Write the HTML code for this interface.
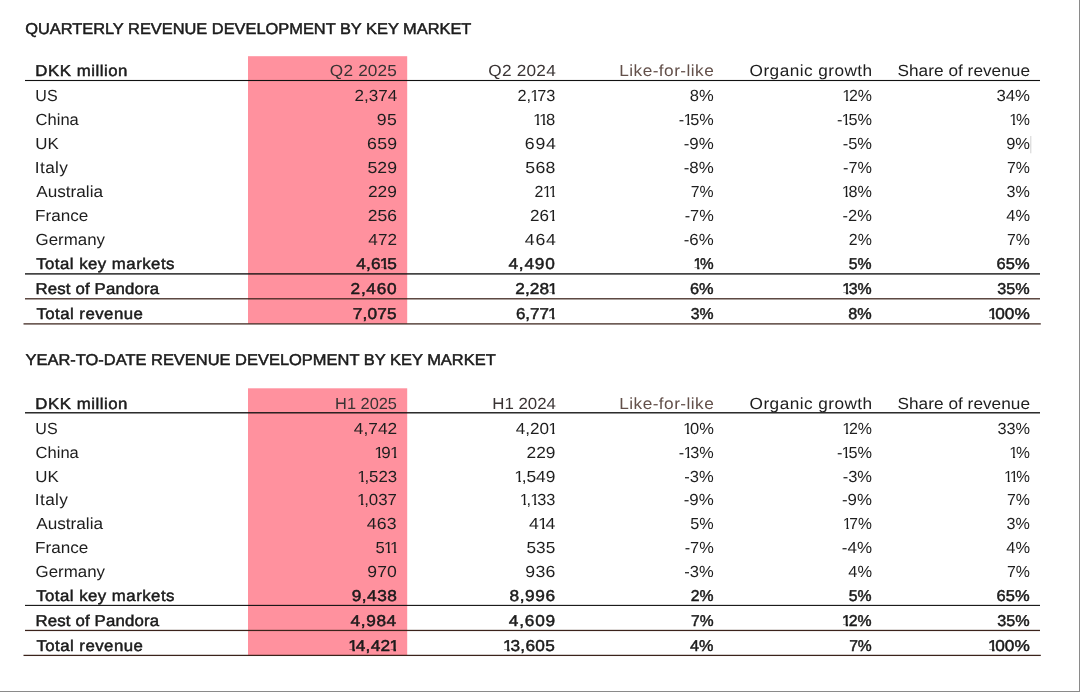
<!DOCTYPE html>
<html lang="en">
<head>
<meta charset="utf-8">
<title>Revenue development by key market</title>
<style>
html,body{margin:0;padding:0;background:#fff;}
body{width:1080px;height:692px;position:relative;overflow:hidden;font-family:"Liberation Sans", sans-serif;font-size:16.1px;color:#1e1e1e;text-rendering:geometricPrecision;}
.frame{position:absolute;left:0;top:0;width:1079px;height:691px;border-right:1px solid #8a8a8a;border-bottom:1px solid #8a8a8a;}
.shapes{position:absolute;left:0;top:0;}
section,.row{margin:0;padding:0;}
h2{margin:0;padding:0;}
.t{position:absolute;white-space:nowrap;line-height:20px;height:20px;}
.b{font-weight:400;-webkit-text-stroke:0.45px #111;}
.t i{font-style:normal;display:inline-block;margin:0 -2.2px 0 -0.8px;clip-path:polygon(0 0,6px 0,6px 100%,3.7px 100%,3.7px 62%,0 62%);}
</style>
</head>
<body>
<div class="frame"></div>
<svg class="shapes" width="1080" height="692" viewBox="0 0 1080 692">
<rect x="248" y="56.20" width="159.2" height="267.5" fill="#ff919e"/>
<rect x="248" y="388.30" width="159.2" height="266.9" fill="#ff919e"/>
<rect x="25" y="79.95" width="1015" height="1.1" fill="#111"/>
<rect x="25" y="273.22" width="1015" height="1.35" fill="#111"/>
<rect x="25" y="298.18" width="1015" height="1.25" fill="#3b231b"/>
<rect x="23.5" y="323.27" width="1017.3" height="1.25" fill="#3b231b"/>
<rect x="25" y="412.12" width="1015" height="1.35" fill="#111"/>
<rect x="25" y="604.85" width="1015" height="1.1" fill="#111"/>
<rect x="25" y="629.83" width="1015" height="1.25" fill="#3b231b"/>
<rect x="23.5" y="654.77" width="1017.3" height="1.25" fill="#3b231b"/>
<rect x="1030.3" y="136" width="1" height="17.3" fill="#d2d2d2"/>
</svg>
<section>
<h2 class="t b" style="top:20.00px;left:26px;transform-origin:0 50%;letter-spacing:0.000px;transform:translateX(-0.85px) scaleX(1.0446);font-size:15.7px;">QUARTERLY REVENUE DEVELOPMENT BY KEY MARKET</h2>
<div class="row head">
<span class="t b" style="top:62.00px;left:36px;transform-origin:0 50%;letter-spacing:0.502px;transform:translateX(-0.68px) scaleX(1.0700);font-size:15.7px;">DKK million</span>
<span class="t" style="top:61.00px;right:684px;transform-origin:100% 50%;letter-spacing:0.155px;transform:translateX(1.27px) scaleX(1.0700);color:#3a3434;">Q2 2025</span>
<span class="t" style="top:61.00px;right:526px;transform-origin:100% 50%;letter-spacing:0.213px;transform:translateX(1.70px) scaleX(1.0700);color:#3a3434;">Q2 2024</span>
<span class="t" style="top:61.00px;right:367px;transform-origin:100% 50%;letter-spacing:0.426px;transform:translateX(1.46px) scaleX(1.0700);color:#63504a;">Like-for-like</span>
<span class="t" style="top:61.00px;right:209px;transform-origin:100% 50%;letter-spacing:0.414px;transform:translateX(1.65px) scaleX(1.0700);">Organic growth</span>
<span class="t" style="top:61.00px;right:51px;transform-origin:100% 50%;letter-spacing:0.026px;transform:translateX(1.16px) scaleX(1.0700);">Share of revenue</span>
</div>
<div class="row">
<span class="t" style="top:86.00px;left:36px;transform-origin:0 50%;letter-spacing:0.000px;transform:translateX(-0.71px) scaleX(0.9971);">US</span>
<span class="t" style="top:86.00px;right:684px;transform-origin:100% 50%;letter-spacing:0.000px;transform:translateX(0.86px) scaleX(1.0609);">2,374</span>
<span class="t" style="top:86.00px;right:526px;transform-origin:100% 50%;letter-spacing:0.000px;transform:translateX(1.05px) scaleX(1.0144);">2,<i>1</i>73</span>
<span class="t" style="top:86.00px;right:367px;transform-origin:100% 50%;letter-spacing:-0.000px;transform:translateX(0.48px) scaleX(1.0285);">8%</span>
<span class="t" style="top:86.00px;right:209px;transform-origin:100% 50%;letter-spacing:0.000px;transform:translateX(0.72px) scaleX(0.9898);"><i>1</i>2%</span>
<span class="t" style="top:86.00px;right:51px;transform-origin:100% 50%;letter-spacing:0.000px;transform:translateX(0.82px) scaleX(1.0432);">34%</span>
</div>
<div class="row">
<span class="t" style="top:110.00px;left:36px;transform-origin:0 50%;letter-spacing:0.000px;transform:translateX(-0.42px) scaleX(1.0277);">China</span>
<span class="t" style="top:110.00px;right:684px;transform-origin:100% 50%;letter-spacing:0.229px;transform:translateX(0.71px) scaleX(1.1000);">95</span>
<span class="t" style="top:110.00px;right:526px;transform-origin:100% 50%;letter-spacing:0.000px;transform:translateX(1.47px) scaleX(1.0342);"><i>1</i><i>1</i>8</span>
<span class="t" style="top:110.00px;right:367px;transform-origin:100% 50%;letter-spacing:0.000px;transform:translateX(1.15px) scaleX(1.0093);">-<i>1</i>5%</span>
<span class="t" style="top:110.00px;right:209px;transform-origin:100% 50%;letter-spacing:0.000px;transform:translateX(1.38px) scaleX(1.0124);">-<i>1</i>5%</span>
<span class="t" style="top:110.00px;right:51px;transform-origin:100% 50%;letter-spacing:0.000px;transform:translateX(0.51px) scaleX(0.9715);"><i>1</i>%</span>
</div>
<div class="row">
<span class="t" style="top:134.00px;left:36px;transform-origin:0 50%;letter-spacing:0.000px;transform:translateX(-0.84px) scaleX(1.0516);">UK</span>
<span class="t" style="top:134.00px;right:684px;transform-origin:100% 50%;letter-spacing:0.161px;transform:translateX(0.84px) scaleX(1.1000);">659</span>
<span class="t" style="top:134.00px;right:526px;transform-origin:100% 50%;letter-spacing:0.690px;transform:translateX(2.75px) scaleX(1.1000);">694</span>
<span class="t" style="top:134.00px;right:367px;transform-origin:100% 50%;letter-spacing:0.000px;transform:translateX(1.06px) scaleX(1.0499);">-9%</span>
<span class="t" style="top:134.00px;right:209px;transform-origin:100% 50%;letter-spacing:-0.000px;transform:translateX(1.40px) scaleX(1.0268);">-5%</span>
<span class="t" style="top:134.00px;right:51px;transform-origin:100% 50%;letter-spacing:0.000px;transform:translateX(0.76px) scaleX(1.0251);">9%</span>
</div>
<div class="row">
<span class="t" style="top:158.00px;left:36px;transform-origin:0 50%;letter-spacing:0.343px;transform:translateX(-1.16px) scaleX(1.0700);">Italy</span>
<span class="t" style="top:158.00px;right:684px;transform-origin:100% 50%;letter-spacing:0.000px;transform:translateX(1.11px) scaleX(1.0972);">529</span>
<span class="t" style="top:158.00px;right:526px;transform-origin:100% 50%;letter-spacing:0.273px;transform:translateX(2.02px) scaleX(1.1000);">568</span>
<span class="t" style="top:158.00px;right:367px;transform-origin:100% 50%;letter-spacing:0.000px;transform:translateX(1.06px) scaleX(1.0499);">-8%</span>
<span class="t" style="top:158.00px;right:209px;transform-origin:100% 50%;letter-spacing:0.000px;transform:translateX(1.23px) scaleX(1.0086);">-7%</span>
<span class="t" style="top:158.00px;right:51px;transform-origin:100% 50%;letter-spacing:0.000px;transform:translateX(0.65px) scaleX(0.9881);">7%</span>
</div>
<div class="row">
<span class="t" style="top:182.00px;left:36px;transform-origin:0 50%;letter-spacing:0.000px;transform:translateX(0.22px) scaleX(1.0670);">Australia</span>
<span class="t" style="top:182.00px;right:684px;transform-origin:100% 50%;letter-spacing:0.000px;transform:translateX(1.02px) scaleX(1.0766);">229</span>
<span class="t" style="top:182.00px;right:526px;transform-origin:100% 50%;letter-spacing:0.000px;transform:translateX(1.39px) scaleX(0.9911);">2<i>1</i><i>1</i></span>
<span class="t" style="top:182.00px;right:367px;transform-origin:100% 50%;letter-spacing:0.000px;transform:translateX(0.39px) scaleX(0.9833);">7%</span>
<span class="t" style="top:182.00px;right:209px;transform-origin:100% 50%;letter-spacing:0.000px;transform:translateX(0.77px) scaleX(1.0069);"><i>1</i>8%</span>
<span class="t" style="top:182.00px;right:51px;transform-origin:100% 50%;letter-spacing:-0.000px;transform:translateX(0.68px) scaleX(1.0034);">3%</span>
</div>
<div class="row">
<span class="t" style="top:206.00px;left:36px;transform-origin:0 50%;letter-spacing:0.000px;transform:translateX(-0.93px) scaleX(1.0639);">France</span>
<span class="t" style="top:206.00px;right:684px;transform-origin:100% 50%;letter-spacing:0.000px;transform:translateX(0.99px) scaleX(1.0826);">256</span>
<span class="t" style="top:206.00px;right:526px;transform-origin:100% 50%;letter-spacing:0.000px;transform:translateX(1.48px) scaleX(1.0574);">26<i>1</i></span>
<span class="t" style="top:206.00px;right:367px;transform-origin:100% 50%;letter-spacing:-0.000px;transform:translateX(1.17px) scaleX(1.0185);">-7%</span>
<span class="t" style="top:206.00px;right:209px;transform-origin:100% 50%;letter-spacing:0.000px;transform:translateX(1.16px) scaleX(1.0233);">-2%</span>
<span class="t" style="top:206.00px;right:51px;transform-origin:100% 50%;letter-spacing:0.000px;transform:translateX(0.80px) scaleX(1.0197);">4%</span>
</div>
<div class="row">
<span class="t" style="top:230.00px;left:36px;transform-origin:0 50%;letter-spacing:0.000px;transform:translateX(-0.40px) scaleX(1.0484);">Germany</span>
<span class="t" style="top:230.00px;right:684px;transform-origin:100% 50%;letter-spacing:0.000px;transform:translateX(1.11px) scaleX(1.0658);">472</span>
<span class="t" style="top:230.00px;right:526px;transform-origin:100% 50%;letter-spacing:0.612px;transform:translateX(2.74px) scaleX(1.1000);">464</span>
<span class="t" style="top:230.00px;right:367px;transform-origin:100% 50%;letter-spacing:-0.000px;transform:translateX(1.07px) scaleX(1.0458);">-6%</span>
<span class="t" style="top:230.00px;right:209px;transform-origin:100% 50%;letter-spacing:0.000px;transform:translateX(0.57px) scaleX(0.9893);">2%</span>
<span class="t" style="top:230.00px;right:51px;transform-origin:100% 50%;letter-spacing:0.000px;transform:translateX(0.65px) scaleX(0.9881);">7%</span>
</div>
<div class="row">
<span class="t b" style="top:255.00px;left:36px;transform-origin:0 50%;letter-spacing:0.446px;transform:translateX(0.19px) scaleX(1.0700);font-size:15.7px;">Total key markets</span>
<span class="t b" style="top:255.00px;right:684px;transform-origin:100% 50%;letter-spacing:0.142px;transform:translateX(0.94px) scaleX(1.1000);font-size:15.7px;">4,6<i>1</i>5</span>
<span class="t b" style="top:255.00px;right:526px;transform-origin:100% 50%;letter-spacing:0.740px;transform:translateX(1.73px) scaleX(1.1000);font-size:15.7px;">4,490</span>
<span class="t b" style="top:255.00px;right:367px;transform-origin:100% 50%;letter-spacing:0.000px;transform:translateX(0.88px) scaleX(0.9759);font-size:15.7px;"><i>1</i>%</span>
<span class="t b" style="top:255.00px;right:209px;transform-origin:100% 50%;letter-spacing:0.000px;transform:translateX(0.95px) scaleX(1.0064);font-size:15.7px;">5%</span>
<span class="t b" style="top:255.00px;right:51px;transform-origin:100% 50%;letter-spacing:-0.000px;transform:translateX(0.21px) scaleX(1.0511);font-size:15.7px;">65%</span>
</div>
<div class="row">
<span class="t b" style="top:280.00px;left:36px;transform-origin:0 50%;letter-spacing:0.152px;transform:translateX(-0.57px) scaleX(1.0700);font-size:15.7px;">Rest of Pandora</span>
<span class="t b" style="top:280.00px;right:684px;transform-origin:100% 50%;letter-spacing:0.620px;transform:translateX(0.85px) scaleX(1.1000);font-size:15.7px;">2,460</span>
<span class="t b" style="top:280.00px;right:526px;transform-origin:100% 50%;letter-spacing:0.041px;transform:translateX(0.90px) scaleX(1.1000);font-size:15.7px;">2,28<i>1</i></span>
<span class="t b" style="top:280.00px;right:367px;transform-origin:100% 50%;letter-spacing:0.000px;transform:translateX(0.95px) scaleX(1.0416);font-size:15.7px;">6%</span>
<span class="t b" style="top:280.00px;right:209px;transform-origin:100% 50%;letter-spacing:-0.000px;transform:translateX(0.31px) scaleX(1.0124);font-size:15.7px;"><i>1</i>3%</span>
<span class="t b" style="top:280.00px;right:51px;transform-origin:100% 50%;letter-spacing:0.000px;transform:translateX(0.38px) scaleX(1.0326);font-size:15.7px;">35%</span>
</div>
<div class="row">
<span class="t b" style="top:305.00px;left:36px;transform-origin:0 50%;letter-spacing:0.440px;transform:translateX(0.42px) scaleX(1.0700);font-size:15.7px;">Total revenue</span>
<span class="t b" style="top:305.00px;right:684px;transform-origin:100% 50%;letter-spacing:0.152px;transform:translateX(0.82px) scaleX(1.1000);font-size:15.7px;">7,075</span>
<span class="t b" style="top:305.00px;right:526px;transform-origin:100% 50%;letter-spacing:0.000px;transform:translateX(0.85px) scaleX(1.0811);font-size:15.7px;">6,77<i>1</i></span>
<span class="t b" style="top:305.00px;right:367px;transform-origin:100% 50%;letter-spacing:0.000px;transform:translateX(0.97px) scaleX(1.0069);font-size:15.7px;">3%</span>
<span class="t b" style="top:305.00px;right:209px;transform-origin:100% 50%;letter-spacing:0.000px;transform:translateX(1.01px) scaleX(1.0330);font-size:15.7px;">8%</span>
<span class="t b" style="top:305.00px;right:51px;transform-origin:100% 50%;letter-spacing:0.028px;transform:translateX(0.52px) scaleX(1.1000);font-size:15.7px;"><i>1</i>00%</span>
</div>
</section>
<section>
<h2 class="t b" style="top:351.00px;left:26px;transform-origin:0 50%;letter-spacing:-0.000px;transform:translateX(-0.52px) scaleX(1.0487);font-size:15.7px;">YEAR-TO-DATE REVENUE DEVELOPMENT BY KEY MARKET</h2>
<div class="row head">
<span class="t b" style="top:395.00px;left:36px;transform-origin:0 50%;letter-spacing:0.502px;transform:translateX(-0.68px) scaleX(1.0700);font-size:15.7px;">DKK million</span>
<span class="t" style="top:394.00px;right:684px;transform-origin:100% 50%;letter-spacing:-0.000px;transform:translateX(1.08px) scaleX(1.0163);color:#3a3434;">H1 2025</span>
<span class="t" style="top:394.00px;right:526px;transform-origin:100% 50%;letter-spacing:-0.000px;transform:translateX(2.03px) scaleX(1.0457);color:#3a3434;">H1 2024</span>
<span class="t" style="top:394.00px;right:367px;transform-origin:100% 50%;letter-spacing:0.426px;transform:translateX(1.46px) scaleX(1.0700);color:#63504a;">Like-for-like</span>
<span class="t" style="top:394.00px;right:209px;transform-origin:100% 50%;letter-spacing:0.414px;transform:translateX(1.65px) scaleX(1.0700);">Organic growth</span>
<span class="t" style="top:394.00px;right:51px;transform-origin:100% 50%;letter-spacing:0.026px;transform:translateX(1.16px) scaleX(1.0700);">Share of revenue</span>
</div>
<div class="row">
<span class="t" style="top:419.00px;left:36px;transform-origin:0 50%;letter-spacing:0.000px;transform:translateX(-0.71px) scaleX(0.9971);">US</span>
<span class="t" style="top:419.00px;right:684px;transform-origin:100% 50%;letter-spacing:0.000px;transform:translateX(0.92px) scaleX(1.0756);">4,742</span>
<span class="t" style="top:419.00px;right:526px;transform-origin:100% 50%;letter-spacing:0.000px;transform:translateX(1.05px) scaleX(1.0629);">4,20<i>1</i></span>
<span class="t" style="top:419.00px;right:367px;transform-origin:100% 50%;letter-spacing:0.000px;transform:translateX(0.61px) scaleX(1.0241);"><i>1</i>0%</span>
<span class="t" style="top:419.00px;right:209px;transform-origin:100% 50%;letter-spacing:0.000px;transform:translateX(0.72px) scaleX(0.9898);"><i>1</i>2%</span>
<span class="t" style="top:419.00px;right:51px;transform-origin:100% 50%;letter-spacing:0.000px;transform:translateX(0.86px) scaleX(1.0149);">33%</span>
</div>
<div class="row">
<span class="t" style="top:443.00px;left:36px;transform-origin:0 50%;letter-spacing:0.000px;transform:translateX(-0.42px) scaleX(1.0277);">China</span>
<span class="t" style="top:443.00px;right:684px;transform-origin:100% 50%;letter-spacing:0.000px;transform:translateX(1.22px) scaleX(1.0548);"><i>1</i>9<i>1</i></span>
<span class="t" style="top:443.00px;right:526px;transform-origin:100% 50%;letter-spacing:0.000px;transform:translateX(1.61px) scaleX(1.0776);">229</span>
<span class="t" style="top:443.00px;right:367px;transform-origin:100% 50%;letter-spacing:0.000px;transform:translateX(1.15px) scaleX(1.0093);">-<i>1</i>3%</span>
<span class="t" style="top:443.00px;right:209px;transform-origin:100% 50%;letter-spacing:0.000px;transform:translateX(1.38px) scaleX(1.0124);">-<i>1</i>5%</span>
<span class="t" style="top:443.00px;right:51px;transform-origin:100% 50%;letter-spacing:0.000px;transform:translateX(0.51px) scaleX(0.9715);"><i>1</i>%</span>
</div>
<div class="row">
<span class="t" style="top:467.00px;left:36px;transform-origin:0 50%;letter-spacing:0.000px;transform:translateX(-0.84px) scaleX(1.0516);">UK</span>
<span class="t" style="top:467.00px;right:684px;transform-origin:100% 50%;letter-spacing:0.000px;transform:translateX(0.81px) scaleX(1.0435);"><i>1</i>,523</span>
<span class="t" style="top:467.00px;right:526px;transform-origin:100% 50%;letter-spacing:0.000px;transform:translateX(1.13px) scaleX(1.0781);"><i>1</i>,549</span>
<span class="t" style="top:467.00px;right:367px;transform-origin:100% 50%;letter-spacing:0.000px;transform:translateX(1.09px) scaleX(1.0287);">-3%</span>
<span class="t" style="top:467.00px;right:209px;transform-origin:100% 50%;letter-spacing:-0.000px;transform:translateX(1.40px) scaleX(1.0268);">-3%</span>
<span class="t" style="top:467.00px;right:51px;transform-origin:100% 50%;letter-spacing:0.000px;transform:translateX(0.57px) scaleX(0.9521);"><i>1</i><i>1</i>%</span>
</div>
<div class="row">
<span class="t" style="top:490.00px;left:36px;transform-origin:0 50%;letter-spacing:0.343px;transform:translateX(-1.16px) scaleX(1.0700);">Italy</span>
<span class="t" style="top:490.00px;right:684px;transform-origin:100% 50%;letter-spacing:0.000px;transform:translateX(0.66px) scaleX(1.0466);"><i>1</i>,037</span>
<span class="t" style="top:490.00px;right:526px;transform-origin:100% 50%;letter-spacing:0.000px;transform:translateX(1.08px) scaleX(1.0162);"><i>1</i>,<i>1</i>33</span>
<span class="t" style="top:490.00px;right:367px;transform-origin:100% 50%;letter-spacing:0.000px;transform:translateX(1.06px) scaleX(1.0499);">-9%</span>
<span class="t" style="top:490.00px;right:209px;transform-origin:100% 50%;letter-spacing:0.000px;transform:translateX(1.22px) scaleX(1.0455);">-9%</span>
<span class="t" style="top:490.00px;right:51px;transform-origin:100% 50%;letter-spacing:0.000px;transform:translateX(0.65px) scaleX(0.9881);">7%</span>
</div>
<div class="row">
<span class="t" style="top:514.00px;left:36px;transform-origin:0 50%;letter-spacing:0.000px;transform:translateX(0.22px) scaleX(1.0670);">Australia</span>
<span class="t" style="top:514.00px;right:684px;transform-origin:100% 50%;letter-spacing:0.221px;transform:translateX(1.42px) scaleX(1.1000);">463</span>
<span class="t" style="top:514.00px;right:526px;transform-origin:100% 50%;letter-spacing:0.091px;transform:translateX(1.36px) scaleX(1.1000);">4<i>1</i>4</span>
<span class="t" style="top:514.00px;right:367px;transform-origin:100% 50%;letter-spacing:0.000px;transform:translateX(0.44px) scaleX(1.0072);">5%</span>
<span class="t" style="top:514.00px;right:209px;transform-origin:100% 50%;letter-spacing:0.000px;transform:translateX(0.71px) scaleX(0.9706);"><i>1</i>7%</span>
<span class="t" style="top:514.00px;right:51px;transform-origin:100% 50%;letter-spacing:-0.000px;transform:translateX(0.68px) scaleX(1.0034);">3%</span>
</div>
<div class="row">
<span class="t" style="top:538.00px;left:36px;transform-origin:0 50%;letter-spacing:0.000px;transform:translateX(-0.93px) scaleX(1.0639);">France</span>
<span class="t" style="top:538.00px;right:684px;transform-origin:100% 50%;letter-spacing:0.000px;transform:translateX(1.17px) scaleX(1.0365);">5<i>1</i><i>1</i></span>
<span class="t" style="top:538.00px;right:526px;transform-origin:100% 50%;letter-spacing:-0.000px;transform:translateX(1.34px) scaleX(1.0686);">535</span>
<span class="t" style="top:538.00px;right:367px;transform-origin:100% 50%;letter-spacing:-0.000px;transform:translateX(1.17px) scaleX(1.0185);">-7%</span>
<span class="t" style="top:538.00px;right:209px;transform-origin:100% 50%;letter-spacing:0.000px;transform:translateX(1.34px) scaleX(1.0539);">-4%</span>
<span class="t" style="top:538.00px;right:51px;transform-origin:100% 50%;letter-spacing:0.000px;transform:translateX(0.80px) scaleX(1.0197);">4%</span>
</div>
<div class="row">
<span class="t" style="top:562.00px;left:36px;transform-origin:0 50%;letter-spacing:0.000px;transform:translateX(-0.40px) scaleX(1.0484);">Germany</span>
<span class="t" style="top:562.00px;right:684px;transform-origin:100% 50%;letter-spacing:0.000px;transform:translateX(0.84px) scaleX(1.0925);">970</span>
<span class="t" style="top:562.00px;right:526px;transform-origin:100% 50%;letter-spacing:0.279px;transform:translateX(2.07px) scaleX(1.1000);">936</span>
<span class="t" style="top:562.00px;right:367px;transform-origin:100% 50%;letter-spacing:0.000px;transform:translateX(1.09px) scaleX(1.0287);">-3%</span>
<span class="t" style="top:562.00px;right:209px;transform-origin:100% 50%;letter-spacing:0.000px;transform:translateX(0.80px) scaleX(1.0197);">4%</span>
<span class="t" style="top:562.00px;right:51px;transform-origin:100% 50%;letter-spacing:0.000px;transform:translateX(0.65px) scaleX(0.9881);">7%</span>
</div>
<div class="row">
<span class="t b" style="top:587.00px;left:36px;transform-origin:0 50%;letter-spacing:0.446px;transform:translateX(0.19px) scaleX(1.0700);font-size:15.7px;">Total key markets</span>
<span class="t b" style="top:587.00px;right:684px;transform-origin:100% 50%;letter-spacing:0.417px;transform:translateX(0.91px) scaleX(1.1000);font-size:15.7px;">9,438</span>
<span class="t b" style="top:587.00px;right:526px;transform-origin:100% 50%;letter-spacing:0.551px;transform:translateX(1.64px) scaleX(1.1000);font-size:15.7px;">8,996</span>
<span class="t b" style="top:587.00px;right:367px;transform-origin:100% 50%;letter-spacing:0.000px;transform:translateX(0.97px) scaleX(1.0054);font-size:15.7px;">2%</span>
<span class="t b" style="top:587.00px;right:209px;transform-origin:100% 50%;letter-spacing:0.000px;transform:translateX(0.95px) scaleX(1.0064);font-size:15.7px;">5%</span>
<span class="t b" style="top:587.00px;right:51px;transform-origin:100% 50%;letter-spacing:-0.000px;transform:translateX(0.21px) scaleX(1.0511);font-size:15.7px;">65%</span>
</div>
<div class="row">
<span class="t b" style="top:612.00px;left:36px;transform-origin:0 50%;letter-spacing:0.152px;transform:translateX(-0.57px) scaleX(1.0700);font-size:15.7px;">Rest of Pandora</span>
<span class="t b" style="top:612.00px;right:684px;transform-origin:100% 50%;letter-spacing:0.556px;transform:translateX(0.78px) scaleX(1.1000);font-size:15.7px;">4,984</span>
<span class="t b" style="top:612.00px;right:526px;transform-origin:100% 50%;letter-spacing:0.740px;transform:translateX(2.06px) scaleX(1.1000);font-size:15.7px;">4,609</span>
<span class="t b" style="top:612.00px;right:367px;transform-origin:100% 50%;letter-spacing:0.000px;transform:translateX(0.83px) scaleX(0.9929);font-size:15.7px;">7%</span>
<span class="t b" style="top:612.00px;right:209px;transform-origin:100% 50%;letter-spacing:0.000px;transform:translateX(0.05px) scaleX(1.0077);font-size:15.7px;"><i>1</i>2%</span>
<span class="t b" style="top:612.00px;right:51px;transform-origin:100% 50%;letter-spacing:0.000px;transform:translateX(0.38px) scaleX(1.0326);font-size:15.7px;">35%</span>
</div>
<div class="row">
<span class="t b" style="top:637.00px;left:36px;transform-origin:0 50%;letter-spacing:0.440px;transform:translateX(0.42px) scaleX(1.0700);font-size:15.7px;">Total revenue</span>
<span class="t b" style="top:637.00px;right:684px;transform-origin:100% 50%;letter-spacing:0.206px;transform:translateX(0.56px) scaleX(1.1000);font-size:15.7px;"><i>1</i>4,42<i>1</i></span>
<span class="t b" style="top:637.00px;right:526px;transform-origin:100% 50%;letter-spacing:0.256px;transform:translateX(1.52px) scaleX(1.1000);font-size:15.7px;"><i>1</i>3,605</span>
<span class="t b" style="top:637.00px;right:367px;transform-origin:100% 50%;letter-spacing:0.000px;transform:translateX(0.87px) scaleX(1.0342);font-size:15.7px;">4%</span>
<span class="t b" style="top:637.00px;right:209px;transform-origin:100% 50%;letter-spacing:0.000px;transform:translateX(1.11px) scaleX(0.9975);font-size:15.7px;">7%</span>
<span class="t b" style="top:637.00px;right:51px;transform-origin:100% 50%;letter-spacing:0.028px;transform:translateX(0.52px) scaleX(1.1000);font-size:15.7px;"><i>1</i>00%</span>
</div>
</section>
</body>
</html>
